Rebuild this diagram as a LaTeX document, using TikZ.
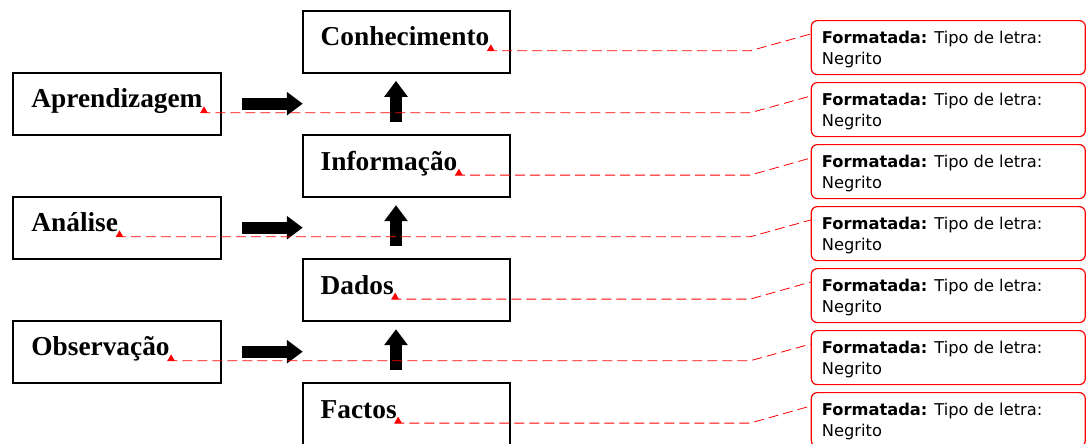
\documentclass[tikz,border=0pt]{standalone}
\usepackage{fontspec}
\setmainfont{Liberation Serif}
\newfontfamily\cmtfont{DejaVu Sans}
\usetikzlibrary{arrows.meta,calc}
\begin{document}
\begin{tikzpicture}[x=0.75pt,y=-0.75pt,
  box/.style={draw, line width=1.3pt, minimum width=155.5pt, minimum height=46.5pt, inner sep=0pt},
  lbl/.style={font=\fontsize{20.5}{24}\selectfont\bfseries, inner sep=0pt, anchor=base west},
  cmt/.style={draw=red, line width=0.9pt, rounded corners=4.5pt, minimum width=205.5pt, minimum height=40.5pt, anchor=north west, inner sep=0pt},
  cmttext/.style={font=\cmtfont\fontsize{12.2}{15}\selectfont, anchor=base west, inner sep=0pt},
  link/.style={red, dash pattern=on 7.5pt off 3.75pt, line width=0.6pt},
  blk/.style={line width=8.8pt, -{Triangle[length=12pt,width=17pt]}}
]
\clip (0,0) rectangle (1086,443);
% centre column
\node[box] (bc) at (406.3,41.7) {};
\node[box] (bi) at (406.3,166) {};
\node[box] (bd) at (406.3,290) {};
\node[box] (bf) at (406.3,414) {};
% left column
\node[box] (ba) at (117,103.7) {};
\node[box] (bn) at (117,227.7) {};
\node[box] (bo) at (117,351.7) {};
% labels
\node[lbl] (tc) at ([shift={(18.7,36)}]bc.north west) {Conhecimento};
\node[lbl] (ti) at ([shift={(18.7,36)}]bi.north west) {Informação};
\node[lbl] (td) at ([shift={(18.7,36)}]bd.north west) {Dados};
\node[lbl] (tf) at ([shift={(18.7,36)}]bf.north west) {Factos};
\node[lbl] (ta) at ([shift={(18.7,36)}]ba.north west) {Aprendizagem};
\node[lbl] (tn) at ([shift={(18.7,36)}]bn.north west) {Análise};
\node[lbl] (to) at ([shift={(18.7,36)}]bo.north west) {Observação};
% block arrows
\coordinate (vx) at (396,0);
\draw[blk] ($(ba.east)+(20,0)$) -- ($(ba.east -| bc.west)+(1,0)$);
\draw[blk] ($(bn.east)+(20,0)$) -- ($(bn.east -| bi.west)+(1,0)$);
\draw[blk] ($(bo.east)+(20,0)$) -- ($(bo.east -| bd.west)+(1,0)$);
\draw[blk] ($(bi.north -| vx)+(0,-12.3)$) -- ($(bc.south -| vx)+(0,7.3)$);
\draw[blk] ($(bd.north -| vx)+(0,-12.3)$) -- ($(bi.south -| vx)+(0,7.3)$);
\draw[blk] ($(bf.north -| vx)+(0,-12.3)$) -- ($(bd.south -| vx)+(0,7.3)$);
% comment balloons
\foreach \i in {1,...,7}{
  \pgfmathsetmacro\t{20+62*(\i-1)}
  \node[cmt] (cm\i) at (810.7,\t) {};
  \node[cmttext] (ca\i) at (821.7,\t+23.8) {\textbf{Formatada:} Tipo de letra:};
  \node[cmttext] (cb\i) at (821.7,\t+44.5) {Negrito};
}
% markers and dashed links
\coordinate (kx) at (750,0);
\foreach \t/\c in {tc/1,ta/2,ti/3,tn/4,td/5,to/6,tf/7}{
  \coordinate (s\c) at ($(\t.base east)+(-2.5,5)$);
  \fill[red] (s\c) -- ++(7.5,0) -- ++(-3.75,-6.5) -- cycle;
  \draw[link] (s\c) -- (s\c -| kx) -- ($(cm\c.north west)+(0,14)$);
}
\end{tikzpicture}
\end{document}
